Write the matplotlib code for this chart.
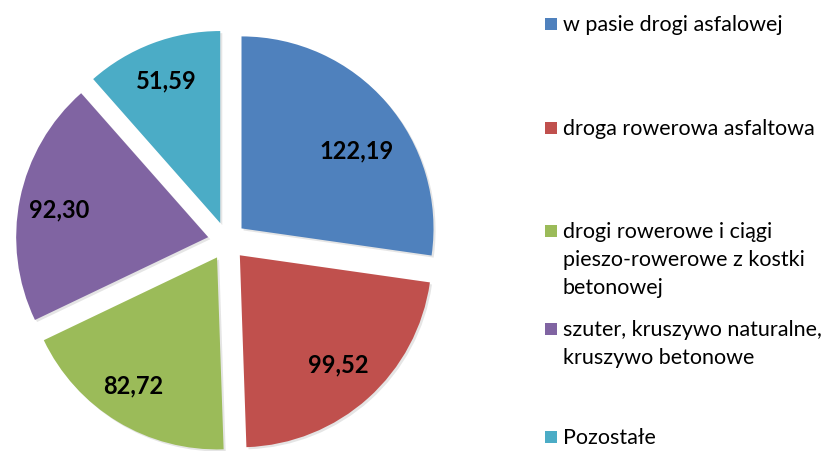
import matplotlib
matplotlib.use("Agg")
import matplotlib.pyplot as plt
import matplotlib.patches as mpatches
import matplotlib.patheffects as pe
import numpy as np

# ---- data ----
categories = [
    "w pasie drogi asfalowej",
    "droga rowerowa asfaltowa",
    "drogi rowerowe i ciągi\npieszo-rowerowe z kostki\nbetonowej",
    "szuter, kruszywo naturalne,\nkruszywo betonowe",
    "Pozostałe",
]
values = [122.19, 99.52, 82.72, 92.30, 51.59]
colors = ["#4F81BD", "#C0504D", "#9BBB59", "#8064A2", "#4BACC6"]

plt.rcParams['font.family'] = ['Lato', 'DejaVu Sans']

W, H = 833, 451
fig = plt.figure(figsize=(W / 100, H / 100), dpi=100)
ax = fig.add_axes([0, 0, 1, 1])

R = 192
cx, cy = 227, H - 241
wedges, _ = ax.pie(
    values, radius=R, center=(cx, cy), startangle=90, counterclock=False,
    explode=[0.1 * R] * len(values), colors=colors,
    wedgeprops=dict(linewidth=0),
)
for w in wedges:
    w.set_path_effects([pe.SimplePatchShadow(offset=(1.5, -1.5), alpha=0.15, shadow_rgbFace='#555555'),
                        pe.Normal()])

# data labels
label_r = [0.72, 0.77, 0.80, 0.79, 0.79]
label_da = [-7, 0, -2, 1, 0]
for w, v, lr, da in zip(wedges, values, label_r, label_da):
    ang = np.deg2rad((w.theta1 + w.theta2) / 2 + da)
    x0, y0 = w.center
    ax.text(x0 + lr * R * np.cos(ang), y0 + lr * R * np.sin(ang),
            f"{v:.2f}".replace('.', ','), ha='center', va='center',
            fontsize=17, fontweight='bold', color='black')

# legend (manual)
leg_y = [24, 128, 231, 329, 437]
sq = 12
for lab, col, ly in zip(categories, colors, leg_y):
    ax.add_patch(mpatches.Rectangle((545, H - ly - sq / 2), sq, sq, color=col, lw=0))
    ax.text(563, H - ly + 9, lab, ha='left', va='top', fontsize=15.5,
            color='black', linespacing=1.49)

ax.set_xlim(0, W)
ax.set_ylim(0, H)
ax.set_aspect('auto')
ax.axis('off')
fig.savefig("out.png", dpi=100)
